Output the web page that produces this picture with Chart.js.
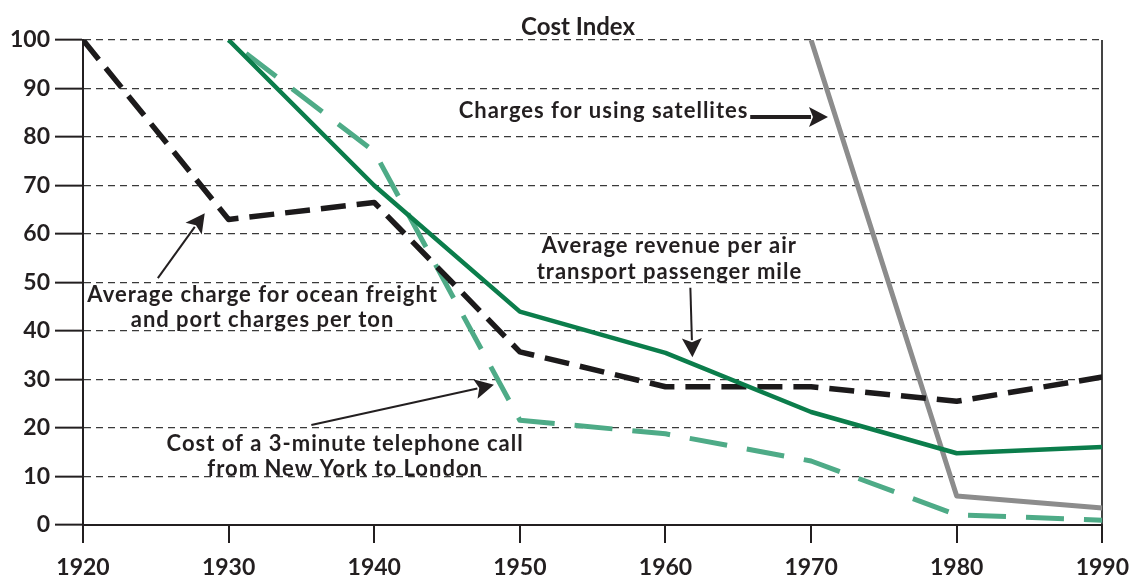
<!DOCTYPE html>
<html>
<head>
<meta charset="utf-8">
<script src="https://cdn.jsdelivr.net/npm/chart.js@4.4.1/dist/chart.umd.min.js"></script>
<style>
  html, body { margin: 0; padding: 0; background: #ffffff; }
  #wrap { width: 1140px; height: 579px; position: relative; }
</style>
</head>
<body>
<div id="wrap"><canvas id="c" width="1140" height="579"></canvas></div>
<script>
// ---- data ----
const years = [1920, 1930, 1940, 1950, 1960, 1970, 1980, 1990];
const oceanFreight = [100, 63, 66.5, 35.7, 28.5, 28.5, 25.5, 30.5];
const airRevenue   = [null, 100, 70, 44, 35.5, 23.3, 14.8, 16.1];
const phoneCall    = [null, 100, 77, 21.6, 18.8, 13.2, 2.1, 1];
const satellites   = [null, null, null, null, null, 100, 6, 3.5];
const yTicks = [0, 10, 20, 30, 40, 50, 60, 70, 80, 90, 100];
const xTicks = years;
const titleText = 'Cost Index';

// annotations in data units: text lines with centre year / baseline value, arrows from -> tip
const notes = [
  { lines: ['Charges for using satellites'], x: 1955.75, y: [83.9] },
  { lines: ['Average revenue per air', 'transport passenger mile'], x: 1960.27, y: [56.1, 50.7] },
  { lines: ['Average charge for ocean freight', 'and port charges per ton'], x: 1932.33, y: [46.0, 40.8] },
  { lines: ['Cost of a 3-minute telephone call', 'from New York to London'], x: 1938.0, y: [15.3, 10.1] }
];
const arrows = [
  { from: [1965.82, 84.1], to: [1971.16, 84.1], w: 4 },
  { from: [1961.71, 48.9], to: [1961.85, 34.6], w: 2 },
  { from: [1925.14, 50.9], to: [1928.36, 64.3], w: 2 },
  { from: [1935.68, 20.6], to: [1948.22, 28.9], w: 2 }
];

const INK = '#231f20';
const FONT = 'Lato, "Open Sans", sans-serif';

function pts(vals) { return years.map((yr, i) => ({ x: yr, y: vals[i] })); }

const annotPlugin = {
  id: 'annot',
  afterDatasetsDraw(chart) {
    const { ctx, scales: { x, y } } = chart;
    ctx.save();
    // title
    ctx.fillStyle = INK;
    ctx.font = 'bold 24px ' + FONT;
    ctx.textAlign = 'left';
    ctx.textBaseline = 'alphabetic';
    const tw = ctx.measureText(titleText).width;
    ctx.fillText(titleText, 578 - tw / 2, 35);
    // notes
    ctx.font = 'bold 22px ' + FONT;
    const LS = 1;
    if ('letterSpacing' in ctx) ctx.letterSpacing = LS + 'px';
    notes.forEach(n => {
      n.lines.forEach((t, i) => {
        const w = ctx.measureText(t).width;
        ctx.fillText(t, x.getPixelForValue(n.x) - w / 2, y.getPixelForValue(n.y[i]));
      });
    });
    if ('letterSpacing' in ctx) ctx.letterSpacing = '0px';
    // arrows
    arrows.forEach(a => {
      const x1 = x.getPixelForValue(a.from[0]), y1 = y.getPixelForValue(a.from[1]);
      const x2 = x.getPixelForValue(a.to[0]), y2 = y.getPixelForValue(a.to[1]);
      const dx = x2 - x1, dy = y2 - y1, L = Math.hypot(dx, dy);
      const ux = dx / L, uy = dy / L;
      const hl = 19, hw = 10;
      const bx = x2 - ux * hl, by = y2 - uy * hl;
      ctx.strokeStyle = INK;
      ctx.lineWidth = a.w;
      ctx.lineCap = 'butt';
      ctx.beginPath();
      ctx.moveTo(x1, y1);
      ctx.lineTo(bx + ux * 2, by + uy * 2);
      ctx.stroke();
      ctx.beginPath();
      ctx.moveTo(x2, y2);
      ctx.lineTo(bx - uy * hw, by + ux * hw);
      ctx.lineTo(bx + ux * 4, by + uy * 4);
      ctx.lineTo(bx + uy * hw, by - ux * hw);
      ctx.closePath();
      ctx.fillStyle = INK;
      ctx.fill();
    });
    ctx.restore();
  }
};

new Chart(document.getElementById('c'), {
  type: 'line',
  data: {
    datasets: [
      { label: 'Average revenue per air transport passenger mile', data: pts(airRevenue),
        borderColor: '#0b7d4b', borderWidth: 4.5 },
      { label: 'Average charge for ocean freight and port charges per ton', data: pts(oceanFreight),
        borderColor: '#1c1a1b', borderWidth: 5.5, borderDash: [25, 11] },
      { label: 'Cost of a 3-minute telephone call from New York to London', data: pts(phoneCall),
        borderColor: '#4eab87', borderWidth: 5, borderDash: [38, 20], borderDashOffset: 36 },
      { label: 'Charges for using satellites', data: pts(satellites),
        borderColor: '#8c8c8c', borderWidth: 5 }
    ]
  },
  options: {
    responsive: false,
    animation: false,
    events: [],
    layout: { padding: { left: 0, right: 35, top: 40, bottom: 0 } },
    elements: {
      point: { radius: 0 },
      line: { tension: 0, fill: false, borderCapStyle: 'butt', borderJoinStyle: 'round' }
    },
    plugins: { legend: { display: false }, tooltip: { enabled: false }, title: { display: false } },
    scales: {
      x: {
        type: 'linear', min: 1920, max: 1990,
        afterBuildTicks: s => { s.ticks = xTicks.map(v => ({ value: v })); },
        afterFit: s => { s.height = 54; },
        ticks: { color: INK, font: { family: FONT, size: 23, weight: 'bold' }, padding: 11, maxRotation: 0,
                 callback: v => String(v) },
        grid: {
          drawOnChartArea: true, drawTicks: true, tickLength: 18,
          color: c => (c.tick && c.tick.value === 1990) ? '#444444' : 'rgba(0,0,0,0)',
          tickColor: INK, lineWidth: 2, tickWidth: 2
        },
        border: { display: true, color: INK, width: 2 }
      },
      y: {
        min: 0, max: 100,
        afterBuildTicks: s => { s.ticks = yTicks.map(v => ({ value: v })); },
        afterFit: s => { s.width = 83; },
        ticks: { color: INK, font: { family: FONT, size: 23, weight: 'bold' }, padding: 5,
                 callback: v => String(v) },
        grid: {
          drawOnChartArea: true, drawTicks: true, tickLength: 28,
          color: c => (c.tick && c.tick.value === 0) ? 'rgba(0,0,0,0)' : '#3a3a3a',
          tickColor: INK, lineWidth: 1.3, tickWidth: 2
        },
        border: { display: true, color: INK, width: 2, dash: [7, 5] }
      }
    }
  },
  plugins: [annotPlugin]
});
</script>
</body>
</html>
